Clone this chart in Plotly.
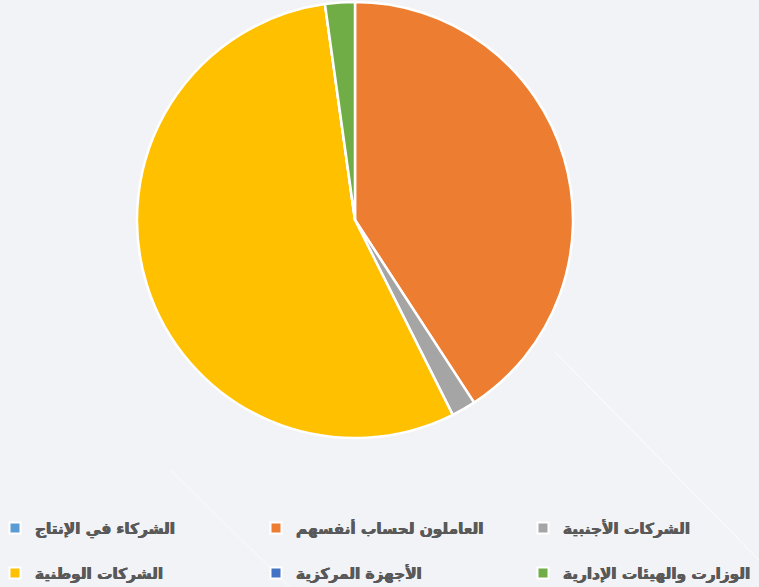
import plotly.graph_objects as go

labels = ["الشركاء في الإنتاج", "العاملون لحساب أنفسهم", "الشركات الأجنبية",
          "الشركات الوطنية", "الأجهزة المركزية", "الوزارت والهيئات الإدارية"]
values = [0, 40.8, 1.8, 55.2, 0, 2.2]
colors = ["#5B9BD5", "#ED7D31", "#A5A5A5", "#FFC000", "#4472C4", "#70AD47"]

W, H = 759, 587
fig = go.Figure()
fig.add_trace(go.Pie(
    labels=labels, values=values, sort=False, direction="clockwise", rotation=0,
    marker=dict(colors=colors, line=dict(color="white", width=2.5)),
    textinfo="none", hoverinfo="label+percent", showlegend=False,
    domain=dict(x=[137 / W, 573 / W], y=[1 - 438 / H, 1 - 2 / H]),
))

# legend slots: (square-center x px, row-center y px)
col_x = [17, 278, 545]
row_y = [528, 573]
legend_layout = {}
for i, (lab, col) in enumerate(zip(labels, colors)):
    key = "legend" if i == 0 else f"legend{i + 1}"
    fig.add_trace(go.Scatter(
        x=[None], y=[None], mode="markers", name=lab,
        marker=dict(symbol="square", size=11, color=col, line=dict(color="white", width=2)),
        legend=key, showlegend=True,
    ))
    cx = col_x[i % 3]
    cy = row_y[i // 3]
    legend_layout[key] = dict(
        orientation="h", xanchor="left", yanchor="middle",
        x=(cx - 22) / W, y=1 - cy / H,
        font=dict(family="DejaVu Sans", size=15.3, color="#595959", weight="bold",
                  shadow="0.45px 0 0 #595959, -0.45px 0 0 #595959"),
        bgcolor="rgba(0,0,0,0)", itemclick=False, itemdoubleclick=False,
        borderwidth=0,
    )

fig.update_layout(
    width=W, height=H,
    margin=dict(l=0, r=0, t=0, b=0, autoexpand=False),
    paper_bgcolor="#F2F3F6", plot_bgcolor="rgba(0,0,0,0)",
    xaxis=dict(visible=False), yaxis=dict(visible=False),
    shapes=[
        dict(type="line", xref="paper", yref="paper",
             x0=555 / W, y0=1 - 352 / H, x1=1.0, y1=1 - 560 / H,
             line=dict(color="rgba(255,255,255,0.55)", width=1.2), layer="below"),
        dict(type="line", xref="paper", yref="paper",
             x0=170 / W, y0=1 - 470 / H, x1=290 / W, y1=0,
             line=dict(color="rgba(255,255,255,0.4)", width=1.2), layer="below"),
    ],
    **legend_layout,
)

fig.write_html("out.html", config={"displayModeBar": False},
               post_script="document.body.style.margin='0px';")
